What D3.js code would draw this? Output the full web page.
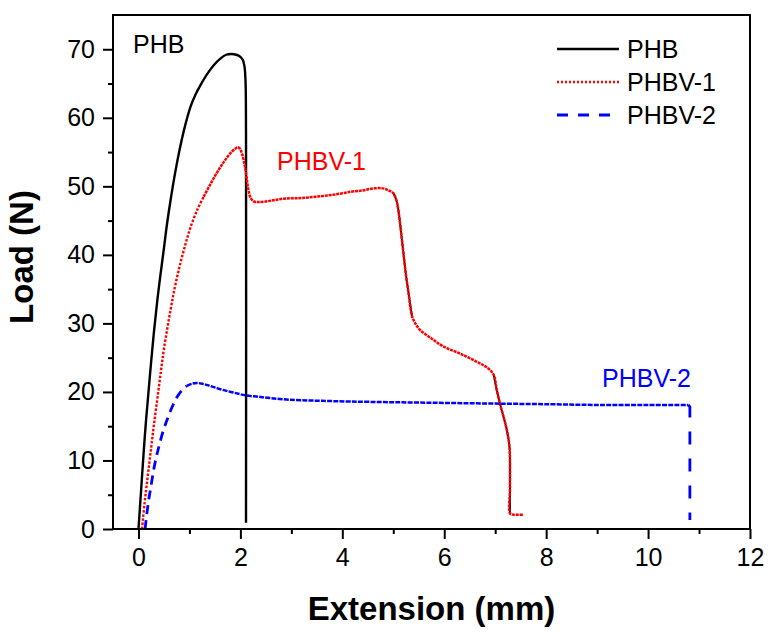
<!DOCTYPE html>
<html>
<head>
<meta charset="utf-8">
<script src="https://cdn.jsdelivr.net/npm/d3@7"></script>
<style>
  html, body { margin: 0; padding: 0; background: #fff; }
  svg { display: block; }
  text { font-family: "Liberation Sans", Arial, sans-serif; }
</style>
</head>
<body>
<svg id="chart" width="772" height="633"></svg>
<script>
// ---------------- data ----------------
const seriesNames = ["PHB", "PHBV-1", "PHBV-2"];
const seriesColors = ["#000000", "#ff0000", "#0000ff"];

const phbX = [0, 0.05, 0.10, 0.15, 0.22, 0.30, 0.37, 0.43, 0.50, 0.56, 0.63, 0.72, 0.82, 0.92, 1.02, 1.12, 1.22, 1.35, 1.48, 1.60, 1.72, 1.82, 1.92, 2.00, 2.05, 2.08, 2.10, 2.11, 2.11];
const phbY = [0, 5.5, 11, 16, 22, 28.5, 33.4, 37, 41, 44.5, 48, 52, 55.8, 59, 61.6, 63.4, 64.8, 66.4, 67.7, 68.6, 69.2, 69.3, 69.2, 68.9, 68.4, 67.5, 65.5, 58, 0.9];

const phbv1X = [0.07, 0.12, 0.18, 0.24, 0.30, 0.37, 0.44, 0.50, 0.63, 0.72, 0.82, 0.92, 1.02, 1.15, 1.28, 1.41, 1.54, 1.67, 1.80, 1.90, 1.95, 1.99, 2.03, 2.07, 2.10, 2.13, 2.16, 2.20, 2.26, 2.36, 2.6, 2.85, 3.2, 3.5, 3.85, 4.16, 4.4, 4.61, 4.8, 4.91, 5.0, 5.06, 5.10, 5.15, 5.20, 5.25, 5.30, 5.37, 5.45, 5.53, 5.75, 5.99, 6.31, 6.64, 6.85, 6.97, 7.03, 7.10, 7.17, 7.23, 7.28, 7.29, 7.29, 7.35, 7.55];
const phbv1Y = [0, 3.8, 7.6, 11.3, 15, 19, 23, 26.3, 32, 35.5, 38.7, 41.5, 44, 46.5, 48.5, 50.3, 52, 53.5, 54.8, 55.5, 55.7, 55.5, 54.8, 53.6, 52.4, 50.8, 49.4, 48.3, 47.8, 47.7, 47.9, 48.2, 48.3, 48.5, 48.8, 49.2, 49.4, 49.7, 49.7, 49.4, 49, 48, 46.5, 43.5, 40.2, 37, 34.4, 31, 29.8, 29, 27.8, 26.6, 25.6, 24.4, 23.5, 22.5, 20.3, 18.1, 16.2, 14.4, 12, 6, 2.3, 2.1, 2.1];

const phbv2X = [0.13, 0.16, 0.20, 0.24, 0.30, 0.35, 0.40, 0.48, 0.56, 0.66, 0.76, 0.86, 0.95, 1.05, 1.15, 1.25, 1.35, 1.48, 1.65, 1.87, 2.1, 2.35, 2.6, 2.9, 3.18, 3.6, 4.16, 5.0, 6.0, 7.0, 8.08, 9.06, 10.0, 10.79, 10.82, 10.82];
const phbv2Y = [0, 2, 4.2, 6, 8.7, 10.5, 12, 14.2, 15.9, 17.8, 19.3, 20.3, 20.9, 21.2, 21.3, 21.2, 21.0, 20.7, 20.3, 19.9, 19.5, 19.3, 19.1, 18.9, 18.8, 18.7, 18.6, 18.5, 18.4, 18.3, 18.2, 18.1, 18.1, 18.1, 17.8, 1.3];

const xDomain = [-0.5, 12];
const yDomain = [0, 75];
const xMajorTicks = [0, 2, 4, 6, 8, 10, 12];
const xMinorTicks = [1, 3, 5, 7, 9, 11];
const yMajorTicks = [0, 10, 20, 30, 40, 50, 60, 70];
const yMinorTicks = [5, 15, 25, 35, 45, 55, 65];

const xTitle = "Extension (mm)";
const yTitle = "Load (N)";

// ---------------- layout ----------------
const W = 772, H = 633;
const M = { left: 113, right: 22, top: 15, bottom: 104 };
const pw = W - M.left - M.right;   // 637
const ph = H - M.top - M.bottom;   // 514

const svg = d3.select("#chart");
const g = svg.append("g").attr("transform", `translate(${M.left},${M.top})`);

const x = d3.scaleLinear().domain(xDomain).range([0, pw]);
const y = d3.scaleLinear().domain(yDomain).range([ph, 0]);

const zip = (xs, ys) => xs.map((v, i) => [v, ys[i]]);
const phb = zip(phbX, phbY);
const phbv1 = zip(phbv1X, phbv1Y);
const phbv2 = zip(phbv2X, phbv2Y);

const line = d3.line().x(d => x(d[0])).y(d => y(d[1])).curve(d3.curveCatmullRom.alpha(0.5));
const straight = d3.line().x(d => x(d[0])).y(d => y(d[1]));

svg.append("defs").append("clipPath").attr("id", "clip")
  .append("rect").attr("x", 0).attr("y", 0).attr("width", pw).attr("height", ph);
const plot = g.append("g").attr("clip-path", "url(#clip)");

// PHB (solid black)
plot.append("path").datum(phb).attr("d", line)
  .attr("fill", "none").attr("stroke", seriesColors[0]).attr("stroke-width", 2.4)
  .attr("stroke-linejoin", "round");

// PHBV-1 (red dotted) - dark underlay on the steep drops
const drop1 = phbv1.filter(d => d[0] >= 5.0 && d[0] <= 5.4);
const drop2 = phbv1.filter(d => d[0] >= 6.97 && d[0] <= 7.29 && d[1] > 2.2);
[drop1, drop2].forEach(seg => {
  plot.append("path").datum(seg).attr("d", line)
    .attr("fill", "none").attr("stroke", "#000").attr("stroke-width", 1.8);
});
const risePart = phbv1.filter(d => d[0] <= 1.3);
const restPart = phbv1.filter(d => d[0] >= 1.28);
plot.append("path").datum(risePart).attr("d", line)
  .attr("fill", "none").attr("stroke", seriesColors[1]).attr("stroke-width", 2.4)
  .attr("stroke-dasharray", "2.5,1.6");
plot.append("path").datum(restPart).attr("d", line)
  .attr("fill", "none").attr("stroke", seriesColors[1]).attr("stroke-width", 2.5)
  .attr("stroke-dasharray", "3,0.8").attr("stroke-linejoin", "round");

// PHBV-2 (blue dashed)
const n2 = phbv2.length;
const b1 = phbv2.filter(d => d[0] <= 0.96);
const b2 = phbv2.slice(0, n2 - 2).filter(d => d[0] >= 0.95);
const b3 = phbv2.slice(n2 - 3);
plot.append("path").datum(b1).attr("d", line)
  .attr("fill", "none").attr("stroke", seriesColors[2]).attr("stroke-width", 2.8)
  .attr("stroke-dasharray", "9,6");
plot.append("path").datum(b2).attr("d", line)
  .attr("fill", "none").attr("stroke", seriesColors[2]).attr("stroke-width", 2.5)
  .attr("stroke-dasharray", "5,1.2");
plot.append("path").datum(b3).attr("d", straight)
  .attr("fill", "none").attr("stroke", seriesColors[2]).attr("stroke-width", 2.8)
  .attr("stroke-dasharray", "13,14");

// ---------------- axes ----------------
const fs = 25;
const xAxis = d3.axisBottom(x).tickValues(xMajorTicks).tickSize(10).tickPadding(9).tickFormat(d3.format("d"));
const xAxisMinor = d3.axisBottom(x).tickValues(xMinorTicks).tickSize(5).tickFormat("");
const yAxis = d3.axisLeft(y).tickValues(yMajorTicks).tickSize(10).tickPadding(8).tickFormat(d3.format("d"));
const yAxisMinor = d3.axisLeft(y).tickValues(yMinorTicks).tickSize(5).tickFormat("");

function styleAxis(sel) {
  sel.select(".domain").remove();
  sel.selectAll(".tick line").attr("stroke", "#000").attr("stroke-width", 2);
  sel.selectAll(".tick text").attr("fill", "#000").style("font-size", fs + "px")
    .style("font-family", '"Liberation Sans", Arial, sans-serif');
}
g.append("g").attr("transform", `translate(0,${ph})`).call(xAxis).call(styleAxis);
g.append("g").attr("transform", `translate(0,${ph})`).call(xAxisMinor).call(styleAxis);
g.append("g").call(yAxis).call(styleAxis);
g.append("g").call(yAxisMinor).call(styleAxis);

// frame
g.append("rect").attr("x", 0).attr("y", 0).attr("width", pw).attr("height", ph)
  .attr("fill", "none").attr("stroke", "#000").attr("stroke-width", 2);

// axis titles
svg.append("text").attr("x", M.left + pw / 2).attr("y", 620)
  .attr("text-anchor", "middle").style("font-size", "33px").style("font-weight", "bold")
  .text(xTitle);
svg.append("text").attr("transform", "translate(33,257) rotate(-90)")
  .attr("text-anchor", "middle").style("font-size", "33px").style("font-weight", "bold")
  .text(yTitle);

// in-plot labels
svg.append("text").attr("x", 133).attr("y", 53).style("font-size", fs + "px")
  .attr("fill", seriesColors[0]).text(seriesNames[0]);
svg.append("text").attr("x", 277).attr("y", 170).style("font-size", fs + "px")
  .attr("fill", seriesColors[1]).text(seriesNames[1]);
svg.append("text").attr("x", 602).attr("y", 387).style("font-size", fs + "px")
  .attr("fill", seriesColors[2]).text(seriesNames[2]);

// legend
const legendDash = [null, "2,2", "11,10"];
const legendWidth = [2.4, 2.4, 2.8];
const lg = svg.append("g").attr("transform", "translate(557,49)");
seriesNames.forEach((name, i) => {
  const row = lg.append("g").attr("transform", `translate(0,${i * 33})`);
  row.append("line").attr("x1", 0).attr("x2", 62).attr("y1", 0).attr("y2", 0)
    .attr("stroke", seriesColors[i]).attr("stroke-width", legendWidth[i])
    .attr("stroke-dasharray", legendDash[i]);
  row.append("text").attr("x", 70).attr("y", 9).style("font-size", fs + "px")
    .attr("fill", "#000").text(name);
});
</script>
</body>
</html>
